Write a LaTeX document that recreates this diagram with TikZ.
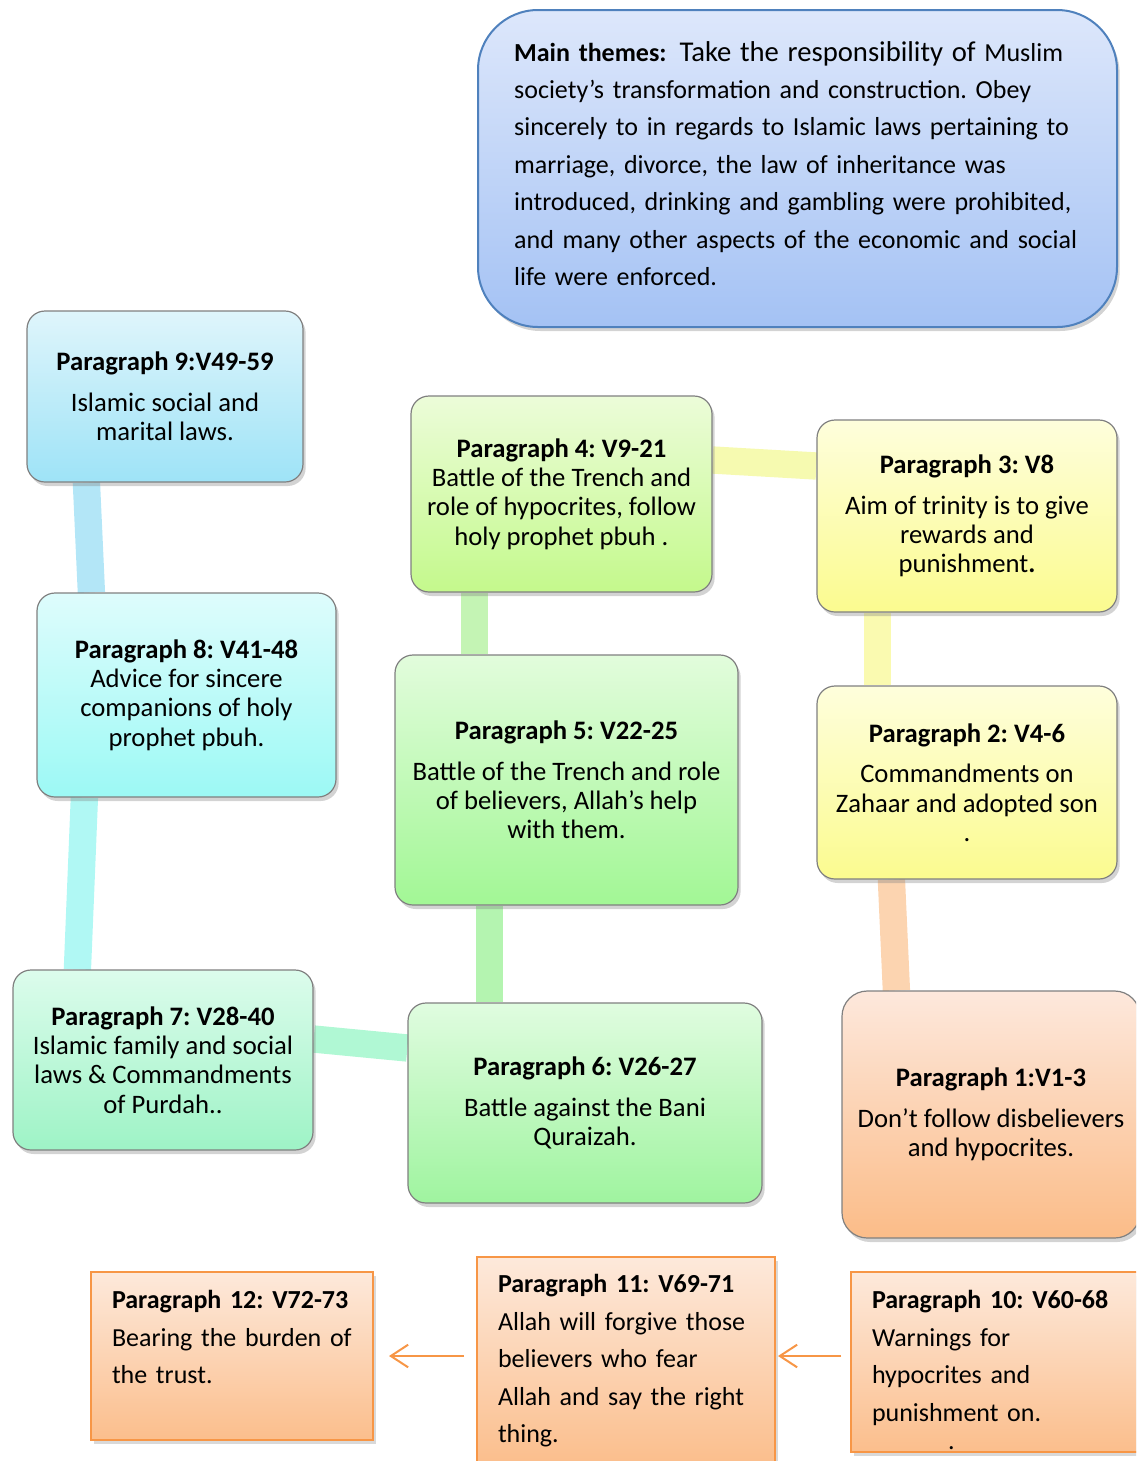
\documentclass[tikz,border=0pt]{standalone}
\usepackage{fontspec}
\setmainfont{Carlito}
\usetikzlibrary{calc,shadows,arrows.meta,backgrounds}

\definecolor{boxgray}{RGB}{128,128,128}
\definecolor{themeline}{RGB}{79,129,189}
\definecolor{orangeline}{RGB}{247,150,70}
\definecolor{orangetop}{RGB}{253,233,219}
\definecolor{orangebot}{RGB}{251,190,140}

\tikzset{every picture/.style={line width=0.75pt}}
\tikzset{
  para/.style={draw=boxgray, line width=0.9pt, rounded corners=13.5pt, align=center,
    inner sep=0pt, font=\fontsize{20}{22}\selectfont,
    drop shadow={shadow xshift=2pt, shadow yshift=-3pt, opacity=0.35}},
  theme/.style={draw=themeline, line width=1.5pt, rounded corners=45pt, align=left,
    inner xsep=27pt, inner ysep=0pt, text width=425pt,
    font=\fontsize{19.5}{28.1}\selectfont,
    top color={rgb,255:red,221;green,231;blue,251}, bottom color={rgb,255:red,164;green,194;blue,244},
    drop shadow={shadow xshift=2pt, shadow yshift=-3pt, opacity=0.35}},
  verse/.style={draw=orangeline, line width=1.5pt, align=left, inner xsep=15.75pt, inner ysep=0pt,
    font=\fontsize{19.5}{28.1}\selectfont, top color=orangetop, bottom color=orangebot,
    drop shadow={shadow xshift=2pt, shadow yshift=-3pt, opacity=0.3}},
  bar/.style={line width=20.5pt},
  flow/.style={draw=orangeline, line width=1.5pt, -{Straight Barb[length=13pt,width=17pt]}},
}

\begin{document}
\frenchspacing
\begin{tikzpicture}[x=0.75pt,y=0.75pt,yscale=-1,xscale=1]
\useasboundingbox (0,0) rectangle (1136,1461);
\clip (0,0) rectangle (1136,1461);

% themes
\node[theme, minimum width=479.25pt, minimum height=237.75pt] (themes) at (797.5,168.5)
  {\textbf{Main themes:} \,{\fontsize{21.5}{28.1}\selectfont Take the responsibility of} Muslim\\
   society’s transformation and construction. Obey\\
   sincerely to in regards to Islamic laws pertaining to\\
   marriage, divorce, the law of inheritance was\\
   introduced, drinking and gambling were prohibited,\\
   and many other aspects of the economic and social\\
   life were enforced.\\[-20.6pt] ~};

% left column
\node[para, minimum width=207pt, minimum height=128.25pt,
  top color={rgb,255:red,223;green,245;blue,251}, bottom color={rgb,255:red,158;green,227;blue,247}] (p9) at (165,396.5)
  {\textbf{Paragraph 9:V49-59}\\[8.5pt] Islamic social and\\ marital laws.};
\node[para, minimum width=224.25pt, minimum height=153pt,
  top color={rgb,255:red,222;green,252;blue,252}, bottom color={rgb,255:red,156;green,249;blue,245}] (p8) at (186.5,695)
  {\textbf{Paragraph 8: V41-48}\\ Advice for sincere\\ companions of holy\\ prophet pbuh.};
\node[para, minimum width=225pt, minimum height=135pt,
  top color={rgb,255:red,220;green,252;blue,236}, bottom color={rgb,255:red,158;green,243;blue,198}] (p7) at (163,1060)
  {\textbf{Paragraph 7: V28-40}\\ Islamic family and social\\ laws \& Commandments\\ of Purdah..};

% middle column
\node[para, minimum width=225.75pt, minimum height=147pt,
  top color={rgb,255:red,236;green,252;blue,217}, bottom color={rgb,255:red,196;green,249;blue,140}] (p4) at (561.5,494)
  {\textbf{Paragraph 4: V9-21}\\ Battle of the Trench and\\ role of hypocrites, follow\\ holy prophet pbuh .};
\node[para, minimum width=257.25pt, minimum height=187.5pt,
  top color={rgb,255:red,226;green,252;blue,220}, bottom color={rgb,255:red,162;green,247;blue,149}] (p5) at (566.5,780)
  {\textbf{Paragraph 5: V22-25}\\[8.5pt] Battle of the Trench and role\\ of believers, Allah’s help\\ with them.};
\node[para, minimum width=265.5pt, minimum height=150pt,
  top color={rgb,255:red,224;green,252;blue,224}, bottom color={rgb,255:red,159;green,244;blue,159}] (p6) at (585,1103)
  {\textbf{Paragraph 6: V26-27}\\[8.5pt] Battle against the Bani\\ Quraizah.};

% right column
\node[para, minimum width=225pt, minimum height=144pt,
  top color={rgb,255:red,254;green,254;blue,220}, bottom color={rgb,255:red,251;green,251;blue,143}] (p3) at (967,516)
  {\textbf{Paragraph 3: V8}\\[8.5pt] Aim of trinity is to give\\ rewards and\\ punishment\textbf{.}};
\node[para, minimum width=225pt, minimum height=144.75pt,
  top color={rgb,255:red,254;green,254;blue,220}, bottom color={rgb,255:red,251;green,251;blue,143}] (p2) at (967,782.5)
  {\textbf{Paragraph 2: V4-6}\\[8.5pt] Commandments on\\ Zahaar and adopted son\\ .};
\node[para, rounded corners=19pt, minimum width=223.5pt, minimum height=185.25pt,
  top color={rgb,255:red,253;green,232;blue,220}, bottom color={rgb,255:red,251;green,188;blue,136}] (p1) at (991,1114.5)
  {\textbf{Paragraph 1:V1-3}\\[8.5pt] Don’t follow disbelievers\\ and hypocrites.};

% bottom row
\node[verse, text width=180pt, minimum height=126pt] (p12) at (232,1356)
  {\textbf{Paragraph 12: V72-73}\\ Bearing the burden of\\ the trust.\\ ~};
\node[verse, text width=192pt, minimum height=156pt] (p11) at (626,1361)
  {\textbf{Paragraph 11: V69-71}\\ Allah will forgive those\\ believers who fear\\ Allah and say the right\\ thing.};
\node[verse, text width=192pt, minimum height=135pt] (p10) at (1000,1362)
  {\textbf{Paragraph 10: V60-68}\\ Warnings for\\ hypocrites and\\
   \leavevmode\rlap{\hspace*{57pt}\raisebox{-21pt}[0pt][0pt]{.}}punishment on.\\[-19.1pt] ~};

% links
\begin{scope}[on background layer]
\draw[bar, color={rgb,255:red,179;green,230;blue,247}] ($(p9.south west)+(60,0)$) -- ($(p8.north west)+(55,0)$);
\draw[bar, color={rgb,255:red,176;green,248;blue,244}] ($(p8.south west)+(48,0)$) -- ($(p7.north west)+(65,0)$);
\draw[bar, color={rgb,255:red,176;green,248;blue,212}] ($(p7.east)+(0,-21)$) -- ($(p6.west)+(0,-55)$);
\draw[bar, color={rgb,255:red,180;green,244;blue,176}] ($(p6.north west)+(82,0)$) -- ($(p5.south west)+(95,0)$);
\draw[bar, color={rgb,255:red,196;green,244;blue,180}] ($(p5.north west)+(80,0)$) -- ($(p4.south west)+(64,0)$);
\draw[bar, color={rgb,255:red,246;green,250;blue,176}] ($(p4.east)+(0,-34)$) -- ($(p3.west)+(0,-50)$);
\draw[bar, color={rgb,255:red,250;green,250;blue,176}] ($(p3.south west)+(61,0)$) -- ($(p2.north west)+(61,0)$);
\draw[bar, color={rgb,255:red,252;green,212;blue,176}] ($(p2.south west)+(75,0)$) -- ($(p1.north west)+(55,0)$);
\end{scope}

\draw[flow] ($(p10.west)+(-9,-6)$) -- ($(p11.east)+(2,-5)$);
\draw[flow] ($(p11.west)+(-12,-5)$) -- ($(p12.east)+(15,0)$);

\end{tikzpicture}
\end{document}
